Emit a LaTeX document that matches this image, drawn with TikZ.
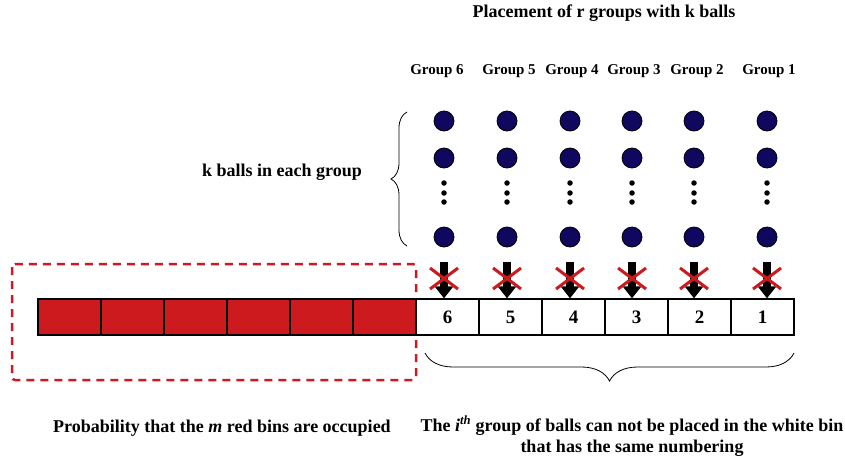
\documentclass[tikz,border=0pt]{standalone}
\usepackage{fontspec}
\setmainfont{Liberation Serif}
\usetikzlibrary{arrows.meta,decorations.pathreplacing,positioning}

\definecolor{binred}{HTML}{CC1A1F}
\definecolor{ballblue}{HTML}{10085E}

\begin{document}
\begin{tikzpicture}[x=1pt, y=-1pt,
    every node/.style={font=\bfseries\fontsize{15}{18}\selectfont},
    caption/.style={font=\bfseries\fontsize{18}{21}\selectfont},
    redbin/.style={draw, line width=1.3pt, fill=binred, minimum width=63pt, minimum height=36pt, inner sep=0pt},
    whitebin/.style={draw, line width=1.3pt, fill=white, minimum width=63pt, minimum height=36pt, inner sep=0pt, font=\bfseries\fontsize{19}{20}\selectfont},
    ball/.style={circle, draw, line width=0.8pt, fill=ballblue, minimum size=20pt, inner sep=0pt},
    dotball/.style={circle, fill=black, minimum size=5.5pt, inner sep=0pt},
    cross/.style={binred, line width=3pt},
    drop/.style={-{Triangle[width=18pt, length=12pt]}, line width=8pt}]
    \useasboundingbox (0,0) rectangle (845,458);
    % Title
    \node[anchor=base, caption] (title) at (604,17) {Placement of r groups with k balls};
    % Occupied area
    \draw[binred, line width=2.5pt, dash pattern=on 8pt off 6pt, rounded corners=3pt] (12,264) rectangle (416,380);
    % Red bins
    \foreach \i in {1,...,6} {
        \node[redbin] (r\i) at ({38+63*(\i-1)+31.5},317) {};
    }
    % White bins
    \foreach \n in {6,...,1} {
        \node[whitebin] (w\n) at ({416+63*(6-\n)+31.5},317) {\n};
    }
    % Groups of balls
    \foreach \n/\x/\lx in {6/444/437, 5/507/509, 4/570/572, 3/632/634, 2/694/697, 1/767/769} {
        \node[anchor=base] (g\n) at (\lx,74) {Group \n};
        \node[ball] (b\n a) at (\x,121) {};
        \node[ball] (b\n b) at (\x,158) {};
        \node[dotball] (d\n a) at (\x,183) {};
        \node[dotball] (d\n b) at (\x,193) {};
        \node[dotball] (d\n c) at (\x,202) {};
        \node[ball] (b\n c) at (\x,237) {};
        % Forbidden drop
        \coordinate (t\n) at (\x,262);
        \draw[drop] (t\n) -- (t\n |- w\n.north);
        \draw[cross] ([shift={(-14,6)}]t\n) -- ([shift={(14,27)}]t\n);
        \draw[cross] ([shift={(-14,27)}]t\n) -- ([shift={(14,6)}]t\n);
    }
    % Braces
    \draw[line width=0.8pt, decorate, decoration={brace, amplitude=16pt}] (407,246) -- (407,112);
    \node[caption] (kballs) at (282,172) {k balls in each group};
    \draw[line width=0.8pt, decorate, decoration={brace, amplitude=28pt}] (794,353) -- (425,353);
    % Captions
    \node[anchor=base, caption] (occupied) at (222,432) {Probability that the \textit{m} red bins are occupied};
    \node[anchor=base, align=center, caption] (rule) at (632,452) {The \textit{i\textsuperscript{th}} group of balls can not be placed in the white bin\\that has the same numbering};
\end{tikzpicture}
\end{document}
